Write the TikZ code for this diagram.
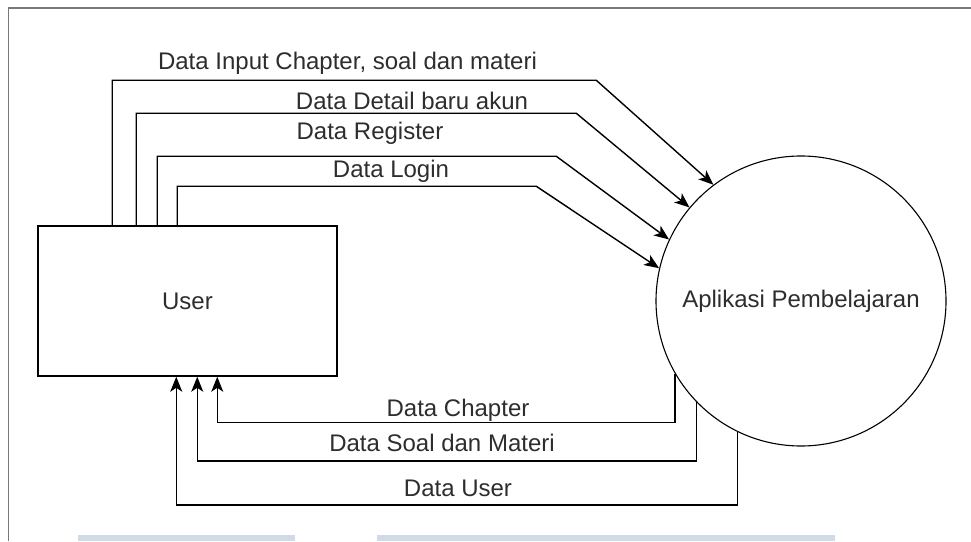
\documentclass[tikz,border=0pt]{standalone}
\usepackage{fontspec}
\setmainfont{Liberation Sans}
\usetikzlibrary{arrows.meta}
\definecolor{framegray}{RGB}{120,120,120}
\definecolor{wmblue}{RGB}{207,219,230}
\definecolor{txtgray}{RGB}{45,45,45}

\begin{document}
\begin{tikzpicture}[x=1pt,y=1pt,
  flow/.style={line width=1.4pt,-{Stealth[length=15pt,width=12pt,inset=4pt]}},
  lbl/.style={text=txtgray,font=\fontsize{24}{28}\selectfont,inner sep=0pt}]
\useasboundingbox (0,0) rectangle (971,541);
% Frame and strip at the bottom
\draw[framegray,line width=1.5pt] (8.5,0) |- (971,533);
\fill[wmblue] (78,0) rectangle (295,6);
\fill[wmblue] (377,0) rectangle (835,6);

% User and app
\node[draw,line width=1.5pt,minimum width=299pt,minimum height=150pt,lbl] (user) at (187.5,240) {User};
\node[draw,circle,line width=1.1pt,minimum size=290pt,lbl] (app) at (801,240) {Aplikasi Pembelajaran};

% Flows into the app
\foreach \dx/\up/\run/\ang in {75/145/484/127, 99/112/440/140, 120/69/399/155.5, 140/39/359/167} {
    \draw[flow] ([xshift=\dx pt]user.north west) -- ++(0,\up) -- ++(\run,0) -- (app.\ang);
}
\node[lbl] (lin) at (347.5,478) {Data Input Chapter, soal dan materi};
\node[lbl] (ldet) at (412,440) {Data Detail baru akun};
\node[lbl] (lreg) at (370,408) {Data Register};
\node[lbl] (llog) at (391,370) {Data Login};

% Flows back to the user
\draw[flow] (app.210) -- ++(0,-49) -| ([xshift=180pt]user.south west);
\draw[flow] (app.224) -- ++(0,-59) -| ([xshift=160pt]user.south west);
\draw[flow] (app.244) -- ++(0,-73) -| ([xshift=139pt]user.south west);
\node[lbl] (lchap) at (458,131) {Data Chapter};
\node[lbl] (lsoal) at (442,98) {Data Soal dan Materi};
\node[lbl] (luser) at (458,53) {Data User};
\end{tikzpicture}
\end{document}
